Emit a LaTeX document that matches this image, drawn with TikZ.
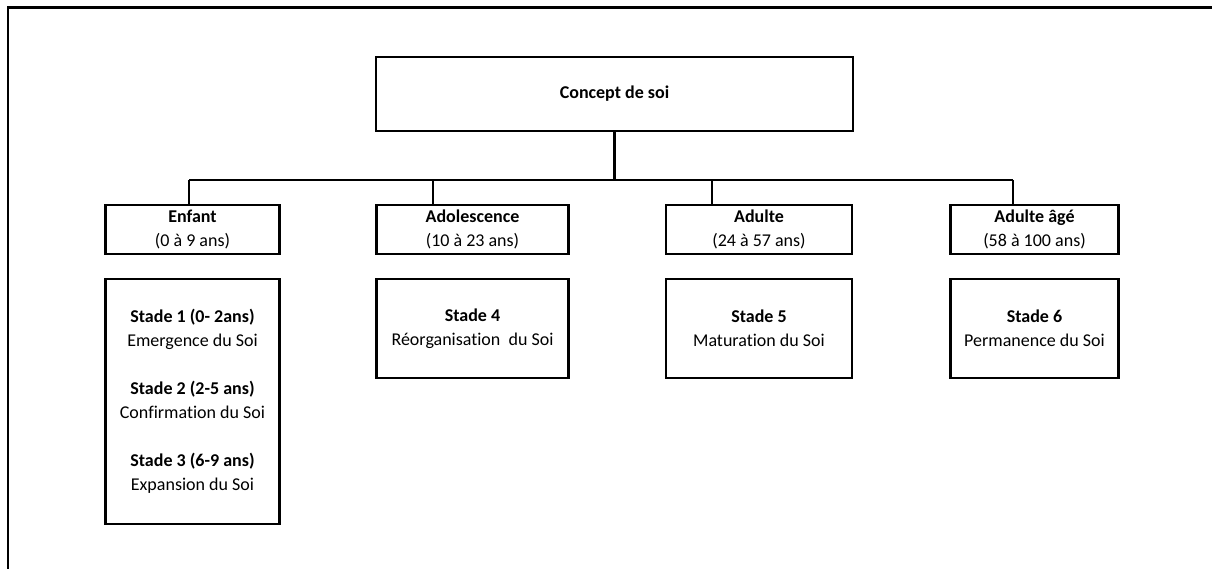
\documentclass[tikz,border=0pt]{standalone}
\usepackage{fontspec}
\setmainfont{Carlito}[Ligatures=NoCommon]
\begin{document}
\begin{tikzpicture}[x=1pt,y=-1pt,
    boite/.style={draw, line width=2.2pt, inner sep=0pt, align=center,
      font=\fontsize{18}{24}\selectfont},
    trait/.style={line width=2.2pt}]

    \useasboundingbox (0,0) rectangle (1212,569);
    \draw[trait] (8,580) -- (8,7.5) -- (1220,7.5);

    \node[boite, minimum width=477, minimum height=74] (concept) at (614.5,94) {\textbf{Concept de soi}};

    \node[boite, minimum width=174, minimum height=49] (enfant) at (192.5,229.5) {\textbf{Enfant}\\(0 à 9 ans)};
    \node[boite, minimum width=192, minimum height=49] (ado) at (472.5,229.5) {\textbf{Adolescence}\\(10 à 23 ans)};
    \node[boite, minimum width=186, minimum height=49] (adulte) at (759,229.5) {\textbf{Adulte}\\(24 à 57 ans)};
    \node[boite, minimum width=168, minimum height=49] (age) at (1034.5,229.5) {\textbf{Adulte âgé}\\(58 à 100 ans)};

    \node[boite, minimum width=174, minimum height=245] (stadeA) at (192.5,401.5)
      {\textbf{Stade 1 (0- 2ans)}\\Emergence du Soi\\[24pt]
       \textbf{Stade 2 (2-5 ans)}\\Confirmation du Soi\\[24pt]
       \textbf{Stade 3 (6-9 ans)}\\Expansion du Soi};
    \node[boite, minimum width=192, minimum height=99] (stadeB) at (472.5,328.5) {\textbf{Stade 4}\\Réorganisation\ \ du Soi};
    \node[boite, minimum width=186, minimum height=99] (stadeC) at (759,328.5) {\textbf{Stade 5}\\Maturation du Soi};
    \node[boite, minimum width=168, minimum height=99] (stadeD) at (1034.5,328.5) {\textbf{Stade 6}\\Permanence du Soi};

    % branches
    \coordinate (b1) at (189,180);
    \coordinate (b2) at (433,180);
    \coordinate (b3) at (712,180);
    \coordinate (b4) at (1013,180);
    \draw[trait] (concept.south) -- (concept.south |- b1);
    \draw[trait] (b1) -- (b4);
    \draw[trait] (b1) -- (b1 |- enfant.north);
    \draw[trait] (b2) -- (b2 |- ado.north);
    \draw[trait] (b3) -- (b3 |- adulte.north);
    \draw[trait] (b4) -- (b4 |- age.north);

\end{tikzpicture}
\end{document}
